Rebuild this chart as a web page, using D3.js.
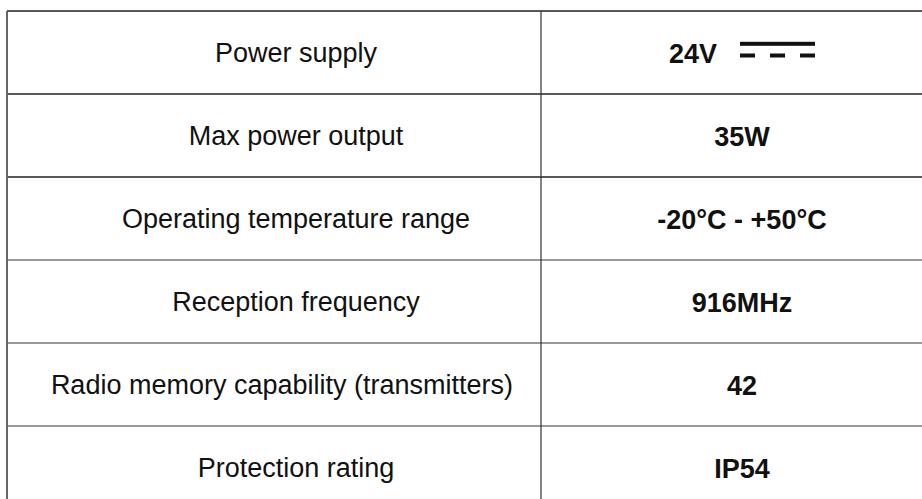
<!DOCTYPE html>
<html>
<head>
<meta charset="utf-8">
<script src="https://cdn.jsdelivr.net/npm/d3@7"></script>
<style>
  body { margin: 0; background: #fff; }
  text { font-family: "Liberation Sans", Arial, sans-serif; fill: #111; }
</style>
</head>
<body>
<script>
// spec table rows
var labels = [
  "Power supply",
  "Max power output",
  "Operating temperature range",
  "Reception frequency",
  "Radio memory capability (transmitters)",
  "Protection rating"
];
var values = ["24V", "35W", "-20°C - +50°C", "916MHz", "42", "IP54"];
var dcRows = ["Power supply"]; // rows that get the DC current symbol

var width = 922, height = 499;

var svg = d3.select("body")
  .append("svg")
  .attr("width", width)
  .attr("height", height);

var y = d3.scaleBand()
  .domain(labels)
  .range([11, 11 + 83 * labels.length]);

var left = 7, mid = 541;
var labelX = 296, valueX = 742;

// horizontal rules
svg.selectAll("line.row")
  .data(labels)
  .enter().append("line")
  .attr("class", "row")
  .attr("x1", left)
  .attr("x2", width)
  .attr("y1", function(d) { return y(d); })
  .attr("y2", function(d) { return y(d); })
  .style("stroke", function(d, i) { return i < 3 ? "#222" : "#777"; })
  .style("stroke-width", 1.5);

// vertical rules
svg.selectAll("line.col")
  .data([left, mid])
  .enter().append("line")
  .attr("class", "col")
  .attr("x1", function(d) { return d; })
  .attr("x2", function(d) { return d; })
  .attr("y1", y(labels[0]))
  .attr("y2", height)
  .style("stroke", function(d, i) { return i == 0 ? "#666" : "#333"; })
  .style("stroke-width", function(d, i) { return i == 0 ? 2 : 1.2; });

// left column labels
svg.selectAll("text.label")
  .data(labels)
  .enter().append("text")
  .attr("class", "label")
  .attr("y", function(d) { return y(d) + y.bandwidth() / 2; })
  .attr("dy", "0.37em")
  .attr("text-anchor", "middle")
  .style("font-size", "27px")
  .text(function(d) { return d; })
  .attr("x", function() {
    var w = this.getComputedTextLength();
    return Math.min(labelX, mid - 28 - w / 2);
  });

// right column values
var val = svg.selectAll("g.value")
  .data(labels)
  .enter().append("g")
  .attr("class", "value")
  .attr("transform", function(d) { return "translate(0," + (y(d) + y.bandwidth() / 2) + ")"; });

val.append("text")
  .attr("dy", "0.37em")
  .style("font-size", "27px")
  .style("font-weight", "bold")
  .text(function(d, i) { return values[i]; })
  .each(function(d) {
    var w = this.getComputedTextLength();
    var sym = dcRows.indexOf(d) >= 0 ? 98 : 0;
    var x0 = valueX - (w + sym) / 2;
    d3.select(this).attr("x", x0);
    if (sym) {
      var g = d3.select(this.parentNode).append("g")
        .attr("transform", "translate(" + (x0 + w + 23) + ",0)");
      g.append("rect")
        .attr("x", 0).attr("y", -10.7)
        .attr("width", 75).attr("height", 4)
        .style("fill", "#111");
      g.selectAll("rect.dash")
        .data([0, 1, 2])
        .enter().append("rect")
        .attr("class", "dash")
        .attr("x", function(k) { return k * 30; })
        .attr("y", 1)
        .attr("width", 15).attr("height", 4)
        .style("fill", "#111");
    }
  });
</script>
</body>
</html>
